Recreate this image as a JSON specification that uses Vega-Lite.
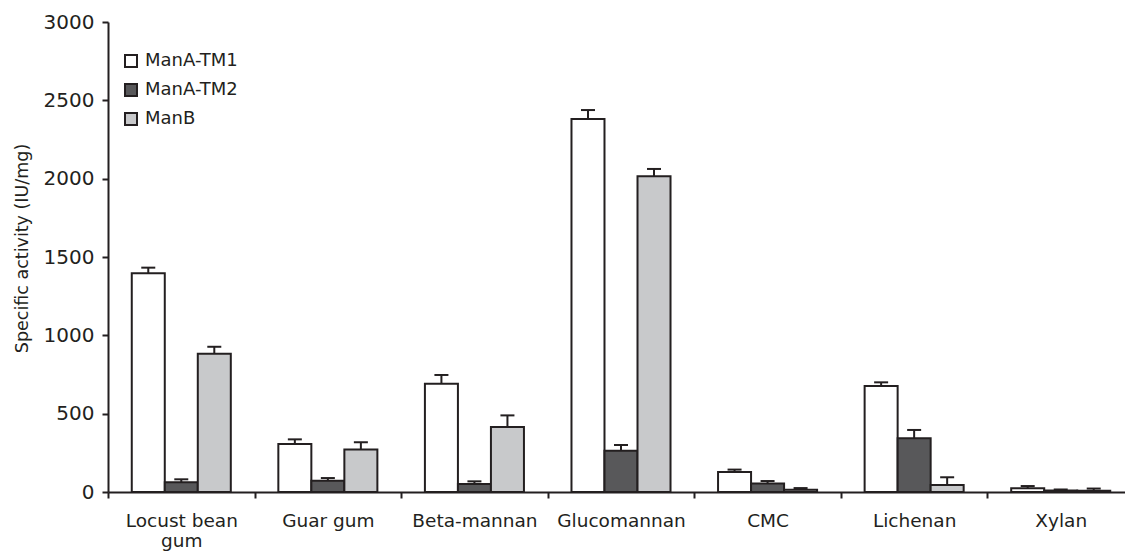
{
  "$schema": "https://vega.github.io/schema/vega-lite/v6.json",
  "width": 1017,
  "height": 470,
  "autosize": {"type": "none"},
  "padding": {"left": 108, "top": 22, "right": 0, "bottom": 60},
  "background": "#ffffff",
  "config": {"view": {"stroke": null}, "font": "DejaVu Sans"},
  "data": {
    "values": [
      {"substrate": "Locust bean gum", "enzyme": "ManA-TM1", "activity": 1397, "upper": 1432},
      {"substrate": "Locust bean gum", "enzyme": "ManA-TM2", "activity": 62, "upper": 81},
      {"substrate": "Locust bean gum", "enzyme": "ManB", "activity": 883, "upper": 927},
      {"substrate": "Guar gum", "enzyme": "ManA-TM1", "activity": 306, "upper": 336},
      {"substrate": "Guar gum", "enzyme": "ManA-TM2", "activity": 72, "upper": 89},
      {"substrate": "Guar gum", "enzyme": "ManB", "activity": 272, "upper": 317},
      {"substrate": "Beta-mannan", "enzyme": "ManA-TM1", "activity": 691, "upper": 747},
      {"substrate": "Beta-mannan", "enzyme": "ManA-TM2", "activity": 51, "upper": 68},
      {"substrate": "Beta-mannan", "enzyme": "ManB", "activity": 415, "upper": 489},
      {"substrate": "Glucomannan", "enzyme": "ManA-TM1", "activity": 2381, "upper": 2438},
      {"substrate": "Glucomannan", "enzyme": "ManA-TM2", "activity": 264, "upper": 300},
      {"substrate": "Glucomannan", "enzyme": "ManB", "activity": 2015, "upper": 2062},
      {"substrate": "CMC", "enzyme": "ManA-TM1", "activity": 128, "upper": 143},
      {"substrate": "CMC", "enzyme": "ManA-TM2", "activity": 55, "upper": 70},
      {"substrate": "CMC", "enzyme": "ManB", "activity": 15, "upper": 25},
      {"substrate": "Lichenan", "enzyme": "ManA-TM1", "activity": 677, "upper": 700},
      {"substrate": "Lichenan", "enzyme": "ManA-TM2", "activity": 343, "upper": 396},
      {"substrate": "Lichenan", "enzyme": "ManB", "activity": 45, "upper": 94},
      {"substrate": "Xylan", "enzyme": "ManA-TM1", "activity": 24, "upper": 38},
      {"substrate": "Xylan", "enzyme": "ManA-TM2", "activity": 10, "upper": 16},
      {"substrate": "Xylan", "enzyme": "ManB", "activity": 8, "upper": 22}
    ]
  },
  "encoding": {
    "x": {
      "field": "substrate",
      "type": "nominal",
      "sort": ["Locust bean gum", "Guar gum", "Beta-mannan", "Glucomannan", "CMC", "Lichenan", "Xylan"],
      "scale": {"range": [0, 1026], "paddingInner": 0, "paddingOuter": 0},
      "axis": {
        "title": null,
        "labelAngle": 0,
        "labelFontSize": 18.5,
        "labelColor": "#231f20",
        "labelPadding": 13,
        "labelLineHeight": 20,
        "labelExpr": "datum.value === 'Locust bean gum' ? ['Locust bean', 'gum'] : datum.label",
        "tickBand": "extent",
        "tickSize": 6,
        "tickWidth": 2,
        "tickColor": "#231f20",
        "domainColor": "#231f20",
        "domainWidth": 2,
        "grid": false
      }
    },
    "xOffset": {
      "field": "enzyme",
      "type": "nominal",
      "sort": ["ManA-TM1", "ManA-TM2", "ManB"],
      "scale": {"paddingInner": 0, "paddingOuter": 0.72}
    }
  },
  "layer": [
    {
      "mark": {"type": "bar", "stroke": "#231f20", "strokeWidth": 2},
      "encoding": {
        "y": {
          "field": "activity",
          "type": "quantitative",
          "scale": {"domain": [0, 3000], "nice": false},
          "axis": {
            "values": [0, 500, 1000, 1500, 2000, 2500, 3000],
            "format": "d",
            "title": "Specific activity (IU/mg)",
            "titleFontSize": 17.5,
            "titleFontWeight": "normal",
            "titleColor": "#231f20",
            "titlePadding": 12,
            "titleY": 226,
            "labelFontSize": 20,
            "labelColor": "#231f20",
            "labelPadding": 8,
            "tickSize": 6,
            "tickWidth": 2,
            "tickColor": "#231f20",
            "domainColor": "#231f20",
            "domainWidth": 2,
            "grid": false
          }
        },
        "fill": {
          "field": "enzyme",
          "type": "nominal",
          "sort": ["ManA-TM1", "ManA-TM2", "ManB"],
          "scale": {"domain": ["ManA-TM1", "ManA-TM2", "ManB"], "range": ["#ffffff", "#58585a", "#c8c9cb"]},
          "legend": {
            "title": null,
            "orient": "none",
            "legendX": 14,
            "legendY": 30,
            "padding": 0,
            "labelFontSize": 18,
            "labelColor": "#231f20",
            "labelOffset": 5,
            "rowPadding": 9,
            "symbolType": "square",
            "symbolSize": 144,
            "symbolStrokeColor": "#231f20",
            "symbolStrokeWidth": 2
          }
        }
      }
    },
    {
      "mark": {"type": "rule", "stroke": "#231f20", "strokeWidth": 2},
      "encoding": {
        "y": {"field": "activity", "type": "quantitative"},
        "y2": {"field": "upper"}
      }
    },
    {
      "mark": {"type": "tick", "color": "#231f20", "size": 14, "thickness": 2, "opacity": 1},
      "encoding": {
        "y": {"field": "upper", "type": "quantitative"}
      }
    }
  ]
}
